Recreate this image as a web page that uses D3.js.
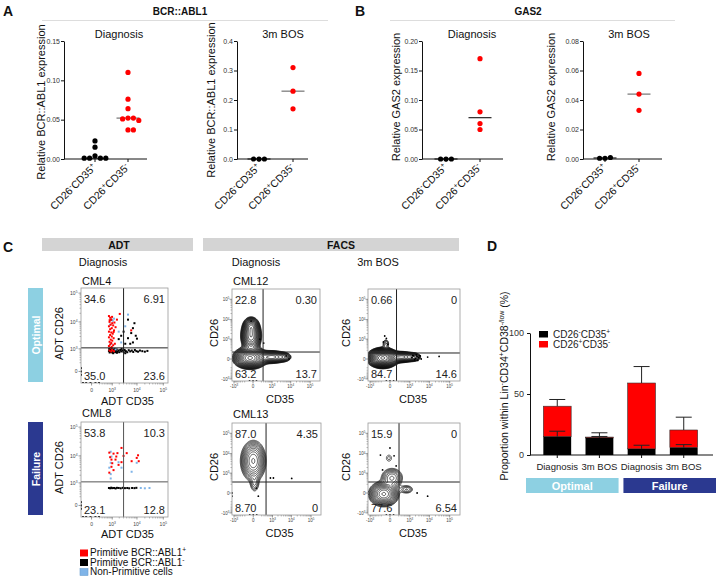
<!DOCTYPE html>
<html><head><meta charset="utf-8">
<script src="https://cdn.jsdelivr.net/npm/d3@7"></script>
<style>body{margin:0;background:#fff}svg{display:block}text{font-family:"Liberation Sans",Arial,Helvetica,sans-serif}</style>
</head><body><svg id="c" width="716" height="576"></svg>
<script>
// ---------------- DATA ----------------
const groups = ["CD26^{-}CD35^{+}", "CD26^{+}CD35^{-}"];
// Panel A: BCR::ABL1
const bcrDiagBlack = [0.023, 0.015, 0.004, 0.001, 0.001, 0.001, 0.001];
const bcrDiagRed = [0.110, 0.076, 0.064, 0.052, 0.052, 0.051, 0.049, 0.037, 0.037];
const bcrDiagMedian = [0.001, 0.052];
const bcrDiagTicks = [0, 0.05, 0.10, 0.15];
const bcrBosBlack = [0, 0, 0];
const bcrBosRed = [0.31, 0.23, 0.17];
const bcrBosMedian = [0, 0.23];
const bcrBosTicks = [0, 0.1, 0.2, 0.3, 0.4];
// Panel B: GAS2
const gasDiagBlack = [0, 0, 0];
const gasDiagRed = [0.17, 0.08, 0.06, 0.05];
const gasDiagMedian = [0, 0.07];
const gasDiagTicks = [0, 0.05, 0.10, 0.15, 0.20];
const gasBosBlack = [0.0005, 0.001, 0.0005];
const gasBosRed = [0.058, 0.044, 0.033];
const gasBosMedian = [0.0007, 0.044];
const gasBosTicks = [0, 0.02, 0.04, 0.06, 0.08];

// Panel C: flow plots (values in fluorescence units)
const adtTickVals = [0, 1e3, 1e4, 1e5];
const adtTickLabels = ["0", "10^{3}", "10^{4}", "10^{5}"];
const facsTickVals = [-1e3, 0, 1e3, 1e4, 1e5];
const facsTickLabels = ["-10^{3}", "0", "10^{3}", "10^{4}", "10^{5}"];

const adtOptNums = ["34.6", "6.91", "35.0", "23.6"];
const adtFailNums = ["53.8", "10.3", "23.1", "12.8"];
const facsOptDiagNums = ["22.8", "0.30", "63.2", "13.7"];
const facsOptBosNums = ["0.66", "0", "84.7", "14.6"];
const facsFailDiagNums = ["87.0", "4.35", "8.70", "0"];
const facsFailBosNums = ["15.9", "0", "77.6", "6.54"];

const adtOptRed = [[700,16000],[800,14000],[900,12000],[750,10000],[1000,9000],[850,8000],[1100,7500],[700,7000],[950,6000],[800,5500],[1200,5000],[700,4500],[900,4200],[1050,3800],[800,3400],[950,3000],[700,2800],[1150,2600],[850,2300],[1000,2100],[750,1900],[900,1700],[1300,1600],[800,1500],[1100,1400],[700,1300],[950,1200],[850,1100],[1000,900],[750,850],[1200,800],[900,780],[1600,12000],[1400,6500],[2100,19000],[6000,5000],[1250,9500],[760,11500],[980,15000],[1150,4400]];
const adtOptBlue = [[4500,18000],[1050,11000],[1900,4500],[800,8000],[2400,1800],[900,1600],[3500,7000],[1400,950],[1200,13000]];
const adtOptBlack = [[4500,12000],[7000,6000],[9000,3200],[4500,2600],[2400,3200],[6000,4000],[7000,1800],[3500,1600],[1900,2400],[900,12000],[5500,1600],[10000,2500],[3000,4500],[8000,9000],
 [700,800],[760,700],[820,900],[880,750],[940,850],[1000,700],[1080,950],[1150,780],[1250,880],[1350,720],[1450,820],[1550,950],[1700,760],[1850,860],[2000,720],[2200,900],[2400,780],[2700,850],[3000,740],[3300,900],[3700,800],[4200,720],[4800,880],[5500,780],[6300,850],[7200,740],[8300,900],[9500,800],[11000,760],[13000,850],[16000,800],[20000,760],[25000,820],[720,1000],[900,1050],[1100,650],[1300,1000],[1600,680],[2500,1000],[3500,650],
 [-300,0],[-300,-60],[-300,60],[-220,-300],[-120,-300],[-20,-300],[80,-300],[180,-300]];
const adtFailRed = [[730,13000],[1140,12000],[1680,12500],[2470,19000],[4000,12500],[920,7400],[1390,7400],[2990,10000],[6230,6500],[9800,8500],[11700,6500],[920,4100],[1870,4800],[1140,3100],[730,2500],[2470,6000],[1000,5500],[800,9000],[1500,9500],[11000,10500]];
const adtFailBlue = [[850,5700],[730,3800],[850,2200],[850,1500],[2470,3800],[6230,2700],[9800,5700],[1870,6000],[920,9500],[850,14000],[14000,600],[20000,580],[30000,600]];
const adtFailBlack = [[700,600],[800,580],[900,620],[1000,590],[1200,600],[1400,570],[1600,610],[1900,600],[2300,580],[2800,610],[3400,590],[4200,600],[5000,580],[6500,600],[8000,590],[9500,610],
 [-300,0],[-300,-60],[-300,60],[-220,-300],[-120,-300],[-20,-300],[80,-300],[180,-300]];

const facsOptDiagDots = [[-30,8500],[150,1000],[5800,50],[8200,0],[300,600],[-1300,15],[-1300,40],[-1300,-20],[-60,-1300],[0,-1300],[60,-1300]];
const facsOptBosDots = [[1290,20],[1450,60],[1600,50],[1800,-10],[2000,10],[2200,70],[2400,40],[2600,-20],[2900,20],[3200,60],[3500,50],[3900,0],[8200,30],[30200,40],[-96,1480],[-60,1100],[-130,700],[-30,500],[-1300,15],[-1300,40],[-60,-1300],[0,-1300],[60,-1300]];
const facsFailDiagDots = [[760,530],[1130,530],[10400,500],[50,90],[96,-50],[-1300,-50],[-1300,0],[-60,-1300],[0,-1300],[60,-1300]];
const facsFailBosDots = [[2420,0],[8200,-50],[0,19000],[-230,8500],[70,7800],[120,2400],[-155,1500],[-1300,-20],[-1300,20],[-60,-1300],[0,-1300],[60,-1300]];

const facsOptDiagBlobs = [{x:-50,y:15,sx:7,sy:4.5,w:1},{x:-30,y:1500,sx:4.5,sy:7,w:0.55},{x:-30,y:4800,sx:3.5,sy:4,w:0.3},{x:1000,y:30,sx:7,sy:3,w:0.35},{x:4500,y:30,sx:4,sy:2.5,w:0.12}];
const facsOptBosBlobs = [{x:-150,y:15,sx:6.5,sy:4.2,w:1},{x:370,y:30,sx:6,sy:2.8,w:0.25},{x:1700,y:30,sx:4,sy:2.5,w:0.12},{x:-70,y:600,sx:2.5,sy:3,w:0.06}];
const facsFailDiagBlobs = [{x:0,y:4300,sx:5,sy:8,w:1},{x:20,y:250,sx:2.5,sy:5,w:0.12}];
const facsFailBosBlobs = [{x:-120,y:-14,sx:6,sy:5,w:1},{x:30,y:530,sx:5.5,sy:5,w:0.22},{x:660,y:60,sx:4,sy:2.5,w:0.1},{x:-15,y:6000,sx:3,sy:3.5,w:0.05}];

const legendC = ["Primitive BCR::ABL1^{+}", "Primitive BCR::ABL1^{-}", "Non-Primitive cells"];

// Panel D
const dLabels = ["Diagnosis", "3m BOS", "Diagnosis", "3m BOS"];
const dGroups = ["Optimal", "Failure"];
const dBlack = [15, 14, 5, 6];
const dBlackErr = [4.5, 1.2, 3, 2.5];
const dRed = [25, 0.7, 54, 14.5];
const dTotalErr = [5.5, 3.5, 13.5, 10.5];
const dTicks = [0, 50, 100];
const dLegend = ["CD26^{-}CD35^{+}", "CD26^{+}CD35^{-}"];

// ---------------- HELPERS ----------------
const RED = "#ff0000", LBLUE = "#8dd0e2", DBLUE = "#2b3990", PTBLUE = "#7fb4e8";
const svg = d3.select("#c");

function rich(sel, str, fs) {
  const parts = str.split(/(\^\{[^}]*\})/).filter(s => s.length);
  let cur = 0;
  parts.forEach(p => {
    if (p.startsWith("^{")) {
      const target = -fs * 0.36;
      sel.append("tspan").attr("font-size", fs * 0.66).attr("dy", target - cur).text(p.slice(2, -1));
      cur = target;
    } else {
      sel.append("tspan").attr("font-size", fs).attr("dy", -cur).text(p);
      cur = 0;
    }
  });
  return sel;
}
function txt(g, x, y, str, fs, o = {}) {
  const t = g.append("text").attr("x", x).attr("y", y).attr("font-size", fs)
    .attr("fill", o.fill || "#111").attr("text-anchor", o.anchor || "start")
    .attr("font-weight", o.weight || "normal");
  if (o.rotate != null) t.attr("transform", `rotate(${o.rotate},${x},${y})`);
  rich(t, str, fs);
  return t;
}

// ---------------- HEADERS ----------------
txt(svg, 3, 16, "A", 14, {weight: "bold"});
txt(svg, 355, 16, "B", 14, {weight: "bold"});
txt(svg, 3, 252, "C", 14, {weight: "bold"});
txt(svg, 487, 251, "D", 14, {weight: "bold"});
txt(svg, 180, 15, "BCR::ABL1", 10, {weight: "bold", anchor: "middle"});
txt(svg, 528, 15, "GAS2", 10, {weight: "bold", anchor: "middle"});
svg.append("line").attr("x1", 42).attr("x2", 328).attr("y1", 20.5).attr("y2", 20.5).attr("stroke", "#ddd");
svg.append("line").attr("x1", 390).attr("x2", 675).attr("y1", 20.5).attr("y2", 20.5).attr("stroke", "#ddd");

// ---------------- DOT PLOTS ----------------
function dotPlot(o) {
  const g = svg.append("g");
  const y = d3.scaleLinear().domain([0, o.ticks[o.ticks.length - 1]]).range([159, 41]);
  const x = d3.scalePoint().domain(groups).range([o.x0 + o.off[0], o.x0 + o.off[1]]);
  const ax = g.append("g").attr("transform", `translate(${o.x0},0)`)
    .call(d3.axisLeft(y).tickValues(o.ticks).tickSize(3).tickSizeOuter(0).tickFormat(d3.format(o.fmt)));
  ax.selectAll("text").attr("font-size", 7).attr("fill", "#333").attr("x", -4);
  ax.selectAll("line,path").attr("stroke", "#111");
  g.append("line").attr("x1", o.x0).attr("x2", o.x1).attr("y1", y(0)).attr("y2", y(0)).attr("stroke", "#111");
  groups.forEach((gr, i) => {
    g.append("line").attr("x1", x(gr)).attr("x2", x(gr)).attr("y1", y(0)).attr("y2", y(0) + 3).attr("stroke", "#111");
    txt(g, x(gr) + 2, y(0) + 9, gr, 10.5, {anchor: "end", rotate: -45});
  });
  txt(g, o.titleX, 38, o.title, 11, {anchor: "middle"});
  txt(g, o.ylabX, o.ylabY, o.ylab, 11, {anchor: "middle", rotate: -90});
  const r = 2.6, step = 5.4;
  [[o.black, "#000", 0], [o.red, RED, 1]].forEach(([vals, col, gi]) => {
    const cx = x(groups[gi]);
    const placed = [];
    vals.forEach(v => {
      const py = y(v);
      let k = 0, px = cx;
      const seq = [0, 1, -1, 2, -2, 3, -3];
      for (k of seq) {
        px = cx + k * step;
        if (!placed.some(p => (p[0] - px) ** 2 + (p[1] - py) ** 2 < (2 * r) ** 2)) break;
      }
      placed.push([px, py]);
    });
    g.append("line").attr("x1", cx - 11.5).attr("x2", cx + 11.5).attr("y1", y(o.med[gi])).attr("y2", y(o.med[gi]))
      .attr("stroke", gi === 1 ? o.medColor : "#111").attr("stroke-width", 1.1);
    g.selectAll(null).data(placed).join("circle").attr("cx", d => d[0]).attr("cy", d => d[1]).attr("r", r).attr("fill", col);
  });
}
dotPlot({x0: 64, x1: 147, off: [31, 64], ticks: bcrDiagTicks, fmt: ".2f", black: bcrDiagBlack, red: bcrDiagRed, med: bcrDiagMedian,
  title: "Diagnosis", titleX: 119, ylab: "Relative BCR::ABL1 expression", ylabX: 45, ylabY: 102, medColor: "#666"});
dotPlot({x0: 237, x1: 308, off: [22, 56], ticks: bcrBosTicks, fmt: ".1f", black: bcrBosBlack, red: bcrBosRed, med: bcrBosMedian,
  title: "3m BOS", titleX: 283, ylab: "Relative BCR::ABL1 expression", ylabX: 215, ylabY: 100, medColor: "#666"});
dotPlot({x0: 422, x1: 503, off: [24, 58], ticks: gasDiagTicks, fmt: ".2f", black: gasDiagBlack, red: gasDiagRed, med: gasDiagMedian,
  title: "Diagnosis", titleX: 472, ylab: "Relative GAS2 expression", ylabX: 400, ylabY: 97, medColor: "#111"});
dotPlot({x0: 583, x1: 662, off: [22, 56], ticks: gasBosTicks, fmt: ".2f", black: gasBosBlack, red: gasBosRed, med: gasBosMedian,
  title: "3m BOS", titleX: 629, ylab: "Relative GAS2 expression", ylabX: 555, ylabY: 97, medColor: "#666"});

// ---------------- PANEL C ----------------
svg.append("rect").attr("x", 42).attr("y", 238).attr("width", 151).attr("height", 13).attr("fill", "#d4d4d4");
svg.append("rect").attr("x", 203).attr("y", 238).attr("width", 256).attr("height", 13).attr("fill", "#d4d4d4");
txt(svg, 119, 248.5, "ADT", 10.5, {weight: "bold", anchor: "middle"});
txt(svg, 341, 248.5, "FACS", 10.5, {weight: "bold", anchor: "middle"});
txt(svg, 103, 266, "Diagnosis", 11, {anchor: "middle"});
txt(svg, 256, 266, "Diagnosis", 11, {anchor: "middle"});
txt(svg, 378, 266, "3m BOS", 11, {anchor: "middle"});
txt(svg, 82, 285, "CML4", 11);
txt(svg, 82, 417, "CML8", 11);
txt(svg, 233, 285, "CML12", 11);
txt(svg, 233, 418, "CML13", 11);
svg.append("rect").attr("x", 28).attr("y", 288).attr("width", 15).attr("height", 94).attr("fill", LBLUE);
svg.append("rect").attr("x", 28).attr("y", 422).attr("width", 15).attr("height", 93).attr("fill", DBLUE);
txt(svg, 39.5, 335, dGroups[0], 10.5, {weight: "bold", anchor: "middle", rotate: -90, fill: "#fff"});
txt(svg, 39.5, 469, dGroups[1], 10.5, {weight: "bold", anchor: "middle", rotate: -90, fill: "#fff"});

let clipN = 0;
function flow(o) {
  const g = svg.append("g");
  const isAdt = o.type === "adt";
  const xs = d3.scaleSymlog().constant(isAdt ? 200 : 119).domain(isAdt ? [-300, 1.5e5] : [-1300, 3.2e5]).range([o.x0, o.x0 + o.w]);
  const ys = xs.copy().range([o.y0 + o.h, o.y0]);
  const id = "clip" + (clipN++);
  svg.append("clipPath").attr("id", id).append("rect").attr("x", o.x0).attr("y", o.y0).attr("width", o.w).attr("height", o.h);
  const inner = g.append("g").attr("clip-path", `url(#${id})`);
  if (o.blobs) {
    const W = Math.ceil(o.w), H = Math.ceil(o.h);
    const vals = new Float64Array(W * H);
    const bl = o.blobs.map(b => ({cx: xs(b.x) - o.x0, cy: ys(b.y) - o.y0, sx: b.sx, sy: b.sy, w: b.w}));
    for (let j = 0; j < H; j++) for (let i = 0; i < W; i++) {
      let s = 0;
      for (const b of bl) { const dx = (i + 0.5 - b.cx) / b.sx, dy = (j + 0.5 - b.cy) / b.sy; s += b.w * Math.exp(-0.5 * (dx * dx + dy * dy)); }
      vals[j * W + i] = s;
    }
    const n = o.nLevels, lo = 0.035, hi = 0.95;
    const levels = d3.range(n).map(i => lo * Math.pow(hi / lo, i / (n - 1)));
    const cs = d3.contours().size([W, H]).thresholds(levels)(vals);
    inner.append("g").attr("transform", `translate(${o.x0},${o.y0})`).selectAll("path").data(cs).join("path")
      .attr("d", d3.geoPath()).attr("fill", "none").attr("stroke", "#000").attr("stroke-width", o.cw || 0.65);
  }
  o.pts.forEach(s => {
    if (isAdt) {
      inner.selectAll(null).data(s.data).join("rect").attr("x", d => xs(d[0]) - 1).attr("y", d => ys(d[1]) - 1)
        .attr("width", 2).attr("height", 2).attr("fill", s.color);
    } else {
      inner.selectAll(null).data(s.data).join("circle").attr("cx", d => xs(d[0])).attr("cy", d => ys(d[1]))
        .attr("r", 0.9).attr("fill", s.color);
    }
  });
  // gates
  g.append("line").attr("x1", xs(o.gx)).attr("x2", xs(o.gx)).attr("y1", o.y0).attr("y2", o.y0 + o.h).attr("stroke", o.gateColor || "#222").attr("stroke-width", 1);
  g.append("line").attr("x1", o.x0).attr("x2", o.x0 + o.w).attr("y1", ys(o.gy)).attr("y2", ys(o.gy)).attr("stroke", o.gateColor || "#222").attr("stroke-width", 1);
  g.append("rect").attr("x", o.x0).attr("y", o.y0).attr("width", o.w).attr("height", o.h).attr("fill", "none").attr("stroke", "#999").attr("stroke-width", 0.8);
  // numbers
  txt(g, o.x0 + 3, o.y0 + 15, o.nums[0], 11, {fill: "#222"});
  txt(g, o.x0 + o.w - 3, o.y0 + 15, o.nums[1], 11, {fill: "#222", anchor: "end"});
  txt(g, o.x0 + 3, o.y0 + o.h - 3.5, o.nums[2], 11, {fill: "#222"});
  txt(g, o.x0 + o.w - 3, o.y0 + o.h - 3.5, o.nums[3], 11, {fill: "#222", anchor: "end"});
  // ticks
  const tv = isAdt ? adtTickVals : facsTickVals, tl = isAdt ? adtTickLabels : facsTickLabels;
  const minor = [];
  [2, 3, 4].forEach(k => d3.range(2, 10).forEach(m => minor.push(m * Math.pow(10, k))));
  if (!isAdt) d3.range(2, 10).forEach(m => minor.push(-m * 100));
  const dom = xs.domain();
  const minorIn = minor.filter(v => v > dom[0] && v < dom[1]);
  const yb = o.y0 + o.h;
  minorIn.forEach(v => {
    g.append("line").attr("x1", xs(v)).attr("x2", xs(v)).attr("y1", yb).attr("y2", yb + 1.5).attr("stroke", "#777").attr("stroke-width", 0.5);
    g.append("line").attr("y1", ys(v)).attr("y2", ys(v)).attr("x1", o.x0).attr("x2", o.x0 - 1.5).attr("stroke", "#777").attr("stroke-width", 0.5);
  });
  const fsT = isAdt ? 5 : 4.5;
  tv.forEach((v, i) => {
    g.append("line").attr("x1", xs(v)).attr("x2", xs(v)).attr("y1", yb).attr("y2", yb + 2.5).attr("stroke", "#555").attr("stroke-width", 0.6);
    g.append("line").attr("y1", ys(v)).attr("y2", ys(v)).attr("x1", o.x0).attr("x2", o.x0 - 2.5).attr("stroke", "#555").attr("stroke-width", 0.6);
    txt(g, xs(v), yb + (isAdt ? 9 : 7), tl[i], fsT, {anchor: "middle", fill: "#444"});
    txt(g, o.x0 - (isAdt ? 3.5 : 2.5), ys(v) + 1.8, tl[i], fsT, {anchor: "end", fill: "#444"});
  });
  txt(g, o.ylabX, o.y0 + o.h / 2 - 2, o.ylab, 11, {anchor: "middle", rotate: -90});
  txt(g, o.x0 + o.w / 2 + (o.xlabDx || 0), o.xlabY, o.xlab, 11, {anchor: "middle"});
}
flow({type: "adt", x0: 81, y0: 288, w: 87, h: 95, gx: 3000, gy: 1100, nums: adtOptNums,
  pts: [{data: adtOptBlack, color: "#000"}, {data: adtOptBlue, color: PTBLUE}, {data: adtOptRed, color: RED}],
  ylab: "ADT CD26", ylabX: 63, xlab: "ADT CD35", xlabY: 405, xlabDx: 3});
flow({type: "adt", x0: 81, y0: 422, w: 87, h: 95, gx: 3000, gy: 1100, nums: adtFailNums, gateColor: "#555",
  pts: [{data: adtFailBlack, color: "#000"}, {data: adtFailBlue, color: PTBLUE}, {data: adtFailRed, color: RED}],
  ylab: "ADT CD26", ylabX: 63, xlab: "ADT CD35", xlabY: 538, xlabDx: 3});
flow({type: "facs", x0: 232, y0: 289, w: 88, h: 92, gx: 270, gy: 143, nums: facsOptDiagNums, blobs: facsOptDiagBlobs, nLevels: 19, cw: 0.7,
  pts: [{data: facsOptDiagDots, color: "#000"}], ylab: "CD26", ylabX: 218, xlab: "CD35", xlabY: 403, xlabDx: 4});
flow({type: "facs", x0: 368, y0: 289, w: 92, h: 92, gx: 130, gy: 116, nums: facsOptBosNums, blobs: facsOptBosBlobs, nLevels: 20, cw: 0.75,
  pts: [{data: facsOptBosDots, color: "#000"}], ylab: "CD26", ylabX: 350, xlab: "CD35", xlabY: 403, xlabDx: -1});
flow({type: "facs", x0: 232, y0: 423, w: 89, h: 92, gx: 410, gy: 293, nums: facsFailDiagNums, blobs: facsFailDiagBlobs, nLevels: 12,
  pts: [{data: facsFailDiagDots, color: "#000"}], ylab: "CD26", ylabX: 218, xlab: "CD35", xlabY: 537, xlabDx: 3});
flow({type: "facs", x0: 368, y0: 423, w: 92, h: 92, gx: 211, gy: 293, nums: facsFailBosNums, blobs: facsFailBosBlobs, nLevels: 14,
  pts: [{data: facsFailBosDots, color: "#000"}], ylab: "CD26", ylabX: 350, xlab: "CD35", xlabY: 537, xlabDx: -1});

// legend C
[RED, "#000", PTBLUE].forEach((c, i) => {
  svg.append("rect").attr("x", 80).attr("y", 549.5 + i * 9.5).attr("width", 8).attr("height", 7).attr("fill", c)
    .attr("stroke", i === 2 ? "#6a9fd0" : "none").attr("stroke-width", 0.6);
  txt(svg, 90, 556 + i * 9.5, legendC[i], 10);
});

// ---------------- PANEL D ----------------
const gD = svg.append("g");
const xD = d3.scaleBand().domain(d3.range(dLabels.length)).range([529, 712]).padding(0.34);
const yD = d3.scaleLinear().domain([0, 100]).range([455, 333]);
const axD = gD.append("g").attr("transform", "translate(530,0)")
  .call(d3.axisLeft(yD).tickValues(dTicks).tickSize(3).tickSizeOuter(0));
axD.selectAll("text").attr("font-size", 9).attr("fill", "#333");
axD.selectAll("line,path").attr("stroke", "#111");
gD.append("line").attr("x1", 530).attr("x2", 713).attr("y1", 455).attr("y2", 455).attr("stroke", "#111");
const bw = xD.bandwidth();
dLabels.forEach((lab, i) => {
  const x = xD(i), cx = x + bw / 2;
  const tot = dBlack[i] + dRed[i];
  gD.append("rect").attr("x", x).attr("width", bw).attr("y", yD(tot)).attr("height", yD(dBlack[i]) - yD(tot))
    .attr("fill", RED).attr("stroke", "#333").attr("stroke-width", 0.6);
  gD.append("rect").attr("x", x).attr("width", bw).attr("y", yD(dBlack[i])).attr("height", yD(0) - yD(dBlack[i]))
    .attr("fill", "#000");
  [[tot, dTotalErr[i]], [dBlack[i], dBlackErr[i]]].forEach(([v, e]) => {
    gD.append("line").attr("x1", cx).attr("x2", cx).attr("y1", yD(v)).attr("y2", yD(v + e)).attr("stroke", "#222").attr("stroke-width", 1);
    gD.append("line").attr("x1", cx - 8).attr("x2", cx + 8).attr("y1", yD(v + e)).attr("y2", yD(v + e)).attr("stroke", "#222").attr("stroke-width", 1);
  });
  gD.append("line").attr("x1", cx).attr("x2", cx).attr("y1", 455).attr("y2", 458).attr("stroke", "#111");
  txt(gD, cx, 470, lab, 9.5, {anchor: "middle", fill: "#222"});
});
const xG = d3.scaleBand().domain(dGroups).range([526, 716]).paddingInner(0.05);
dGroups.forEach((gr, i) => {
  gD.append("rect").attr("x", xG(gr)).attr("y", 478).attr("width", xG.bandwidth()).attr("height", 15).attr("fill", i === 0 ? LBLUE : DBLUE);
  txt(gD, xG(gr) + xG.bandwidth() / 2, 490, gr, 11, {anchor: "middle", weight: "bold", fill: "#fff"});
});
[["#000", 331], [RED, 341]].forEach(([c, yy], i) => {
  gD.append("rect").attr("x", 539).attr("y", yy).attr("width", 9).attr("height", 6.5).attr("fill", c);
  txt(gD, 553, yy + 7, dLegend[i], 10, {fill: "#222"});
});
txt(gD, 508, 386, "Proportion within Lin^{-}CD34^{+}CD38^{-/low} (%)", 10.5, {anchor: "middle", rotate: -90});
</script></body></html>
